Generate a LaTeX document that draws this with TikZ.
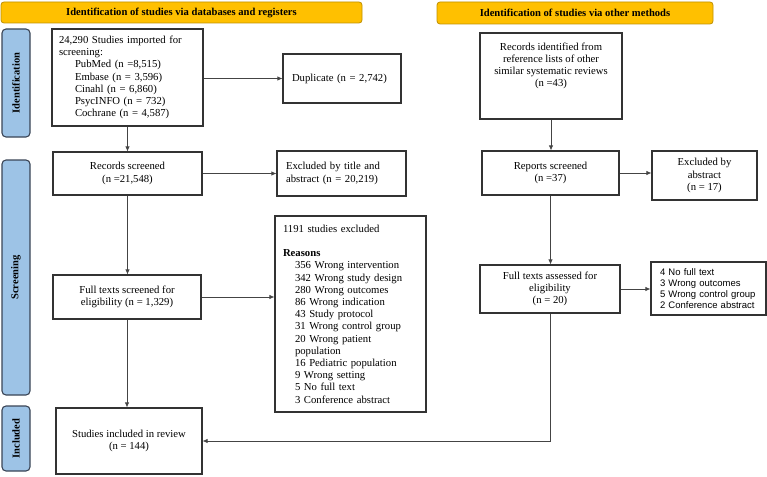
\documentclass[tikz,border=0pt]{standalone}
\usepackage{fontspec}
\setmainfont{Liberation Serif}
\newfontfamily\sansf{Liberation Sans}
\usetikzlibrary{arrows.meta}
\definecolor{hdrfill}{HTML}{FFC000}
\definecolor{hdrline}{HTML}{C09000}
\definecolor{sidefill}{HTML}{9DC3E6}
\definecolor{sideline}{HTML}{3A4556}
\definecolor{boxline}{HTML}{333333}
\definecolor{arrline}{HTML}{444444}
\begin{document}
\begin{tikzpicture}[x=1pt,y=-1pt,
  every node/.style={font=\fontsize{10.7}{12.2}\selectfont},
  box/.style={draw=boxline,line width=1.1pt,fill=white,inner sep=0pt,align=center},
  lbox/.style={draw=boxline,line width=1.1pt,fill=white,inner xsep=8pt,inner ysep=0pt,align=left},
  hdr/.style={draw=hdrline,line width=0.8pt,fill=hdrfill,rounded corners=3pt,inner sep=0pt,
    font=\fontsize{10.6}{12}\selectfont\bfseries},
  side/.style={draw=sideline,line width=1.1pt,fill=sidefill,rounded corners=4pt,inner sep=0pt,
    rotate=90,minimum height=28pt,font=\fontsize{10.5}{12}\selectfont\bfseries},
  arr/.style={draw=arrline,line width=0.8pt,-{Latex[length=5pt,width=4.5pt]}}
]
\useasboundingbox (0,0) rectangle (767,476);

% headers
\node[hdr,minimum width=361pt,minimum height=21pt] (h1) at (181.5,12.5) {Identification of studies via databases and registers};
\node[hdr,minimum width=276pt,minimum height=22pt] (h2) at (575,13) {Identification of studies via other methods};

% side labels
\node[side,minimum width=108pt] (s1) at (16,83) {Identification};
\node[side,minimum width=235pt] (s2) at (16,277.5) {Screening};
\node[side,minimum width=65pt] (s3) at (16,438.5) {Included};

% left column
\node[lbox,text width=137pt,minimum height=97pt,inner xsep=7pt] (imp) at (127.5,77.5) {24,290 Studies imported for\\screening:\\
\hspace*{16pt}PubMed (n =8,515)\\
\hspace*{16pt}Embase (n = 3,596)\\
\hspace*{16pt}Cinahl (n = 6,860)\\
\hspace*{16pt}PsycINFO (n = 732)\\
\hspace*{16pt}Cochrane (n = 4,587)};
\node[lbox,text width=100pt,minimum height=49pt,inner xsep=9pt] (dup) at (342,78.5) {Duplicate (n = 2,742)};
\node[box,minimum width=149pt,minimum height=43pt] (rec) at (127.5,173.5) {Records screened\\(n =21,548)};
\node[lbox,text width=111pt,minimum height=45pt,inner xsep=9pt] (ext) at (341.5,173.5) {Excluded by title and\\abstract (n = 20,219)};
\node[box,minimum width=148pt,minimum height=44pt] (fts) at (127,297) {Full texts screened for\\eligibility (n = 1,329)};
\node[lbox,text width=135pt,minimum height=196pt] (exc) at (350.5,314) {1191 studies excluded\\[12.2pt]
\textbf{Reasons}\\
\hspace*{12pt}356 Wrong intervention\\
\hspace*{12pt}342 Wrong study design\\
\hspace*{12pt}280 Wrong outcomes\\
\hspace*{12pt}86 Wrong indication\\
\hspace*{12pt}43 Study protocol\\
\hspace*{12pt}31 Wrong control group\\
\hspace*{12pt}20 Wrong patient\\
\hspace*{12pt}population\\
\hspace*{12pt}16 Pediatric population\\
\hspace*{12pt}9 Wrong setting\\
\hspace*{12pt}5 No full text\\
\hspace*{12pt}3 Conference abstract};
\node[box,minimum width=146pt,minimum height=66pt] (inc) at (129,441) {Studies included in review\\(n = 144)};

% right column
\node[box,minimum width=142pt,minimum height=86pt] (rid) at (551,76) {Records identified from\\reference lists of other\\similar systematic reviews\\(n =43)\\[10pt]};
\node[box,minimum width=137pt,minimum height=44pt] (rep) at (550.5,173) {Reports screened\\(n =37)};
\node[box,minimum width=105pt,minimum height=49pt] (exa) at (704.5,175.5) {Excluded by\\abstract\\(n = 17)};
\node[box,minimum width=140pt,minimum height=48pt] (fta) at (550,289) {Full texts assessed for\\eligibility\\(n = 20)};
\node[lbox,text width=97pt,minimum height=53pt,inner xsep=9pt,font=\sansf\fontsize{9.5}{11}\selectfont] (exs) at (708.5,288.5) {4 No full text\\3 Wrong outcomes\\5 Wrong control group\\2 Conference abstract};

% connectors
\draw[arr] (imp.south) -- (rec.north);
\draw[arr] (imp.east |- dup.west) -- (dup.west);
\draw[arr] (rec.east) -- (ext.west);
\draw[arr] (rec.south) -- (rec.south |- fts.north);
\draw[arr] (fts.east) -- (fts.east -| exc.west);
\draw[arr] (fts.south) -- (fts.south |- inc.north);
\draw[arr] (rid.south) -- (rid.south |- rep.north);
\draw[arr] (rep.east) -- (rep.east -| exa.west);
\draw[arr] (rep.south) -- (rep.south |- fta.north);
\draw[arr] (fta.east) -- (fta.east -| exs.west);
\draw[arr] (fta.south) |- (inc.east);
\end{tikzpicture}
\end{document}
